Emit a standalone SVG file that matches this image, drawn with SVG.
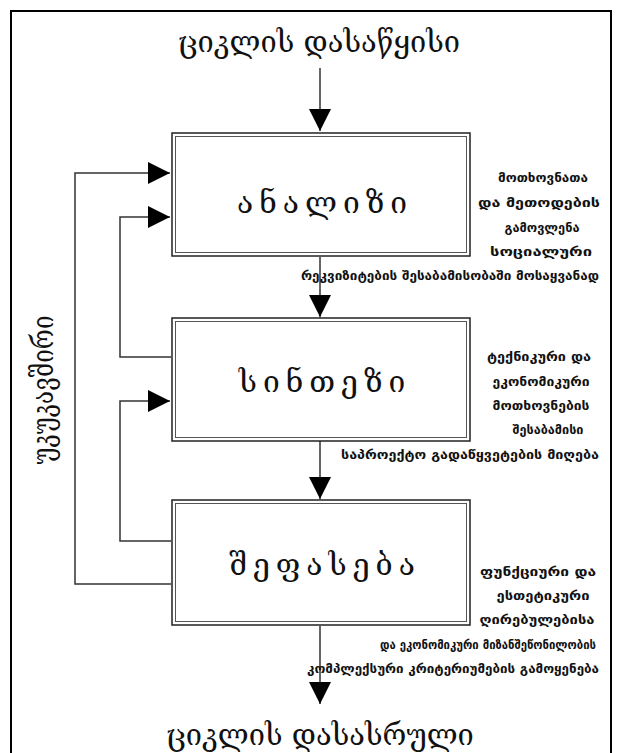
<svg xmlns="http://www.w3.org/2000/svg" width="622" height="753" viewBox="0 0 622 753">
<style>
.big{font-family:"DejaVu Serif","DejaVu Sans",serif;font-size:29px;fill:#111;text-anchor:middle}
.lbl{font-family:"DejaVu Serif","DejaVu Sans",serif;font-size:30px;fill:#111;text-anchor:middle;letter-spacing:6px}
.sm{font-family:"DejaVu Sans",sans-serif;font-size:12px;fill:#111;text-anchor:middle;font-weight:bold}
.ln{fill:none;stroke:#333;stroke-width:1.5}
.box{fill:#fff;stroke:#222;stroke-width:1.5}
</style>
<defs>
<marker id="ah" viewBox="0 0 10 10" refX="10" refY="5" markerWidth="22" markerHeight="22" markerUnits="userSpaceOnUse" orient="auto">
<path d="M0,0 L10,5 L0,10 Z" fill="#000"/>
</marker>
</defs>
<rect x="0" y="0" width="622" height="753" fill="#fff"/>
<rect x="11" y="11" width="600" height="760" fill="none" stroke="#000" stroke-width="2"/>
<text class="big" x="319" y="52">ციკლის დასაწყისი</text>
<text class="big" x="320" y="745">ციკლის დასასრული</text>
<g id="connectors">
<line class="ln" x1="320" y1="68" x2="320" y2="131" marker-end="url(#ah)"/>
<line class="ln" x1="320" y1="257" x2="320" y2="317" marker-end="url(#ah)"/>
<line class="ln" x1="320" y1="441" x2="320" y2="499" marker-end="url(#ah)"/>
<line class="ln" x1="320" y1="626" x2="320" y2="704" marker-end="url(#ah)"/>
<path class="ln" d="M171,584 H75 V173 H170" marker-end="url(#ah)"/>
<path class="ln" d="M171,357 H120 V217 H170" marker-end="url(#ah)"/>
<path class="ln" d="M171,541 H120 V401 H170" marker-end="url(#ah)"/>
</g>
<g id="analysis">
<rect class="box" x="172" y="133" width="298" height="123"/>
<rect x="175.5" y="136.5" width="291" height="116" fill="none" stroke="#555" stroke-width="1"/>
<text class="lbl" x="325" y="213">ანალიზი</text>
<text class="sm" x="543" y="182" textLength="90" lengthAdjust="spacingAndGlyphs">მოთხოვნათა</text>
<text class="sm" x="539" y="207" textLength="122" lengthAdjust="spacingAndGlyphs">და მეთოდების</text>
<text class="sm" x="542" y="232" textLength="75" lengthAdjust="spacingAndGlyphs">გამოვლენა</text>
<text class="sm" x="541" y="256" textLength="102" lengthAdjust="spacingAndGlyphs">სოციალური</text>
<text class="sm" x="450" y="280" textLength="298" lengthAdjust="spacingAndGlyphs">რეკვიზიტების შესაბამისობაში მოსაყვანად</text>
</g>
<g id="synthesis">
<rect class="box" x="172" y="318" width="298" height="123"/>
<rect x="175.5" y="321.5" width="291" height="116" fill="none" stroke="#555" stroke-width="1"/>
<text class="lbl" x="325" y="392">სინთეზი</text>
<text class="sm" x="539" y="361" textLength="104" lengthAdjust="spacingAndGlyphs">ტექნიკური და</text>
<text class="sm" x="541" y="386" textLength="97" lengthAdjust="spacingAndGlyphs">ეკონომიკური</text>
<text class="sm" x="541" y="410" textLength="97" lengthAdjust="spacingAndGlyphs">მოთხოვნების</text>
<text class="sm" x="548" y="434" textLength="71" lengthAdjust="spacingAndGlyphs">შესაბამისი</text>
<text class="sm" x="470" y="459" textLength="258" lengthAdjust="spacingAndGlyphs">საპროექტო გადაწყვეტების მიღება</text>
</g>
<g id="evaluation">
<rect class="box" x="172" y="500" width="298" height="125"/>
<rect x="175.5" y="503.5" width="291" height="118" fill="none" stroke="#555" stroke-width="1"/>
<text class="lbl" x="325" y="575">შეფასება</text>
<text class="sm" x="538" y="576" textLength="116" lengthAdjust="spacingAndGlyphs">ფუნქციური და</text>
<text class="sm" x="543" y="600" textLength="93" lengthAdjust="spacingAndGlyphs">ესთეტიკური</text>
<text class="sm" x="537" y="624" textLength="115" lengthAdjust="spacingAndGlyphs">ღირებულებისა</text>
<text class="sm" x="488" y="649" textLength="216" lengthAdjust="spacingAndGlyphs">და ეკონომიკური მიზანშეწონილობის</text>
<text class="sm" x="453" y="673" textLength="292" lengthAdjust="spacingAndGlyphs">კომპლექსური კრიტერიუმების გამოყენება</text>
</g>
<g id="feedback">
<text class="big" transform="translate(53,390) rotate(-90) scale(0.84,1)" x="0" y="0">უკუკავშირი</text>
</g>
</svg>
